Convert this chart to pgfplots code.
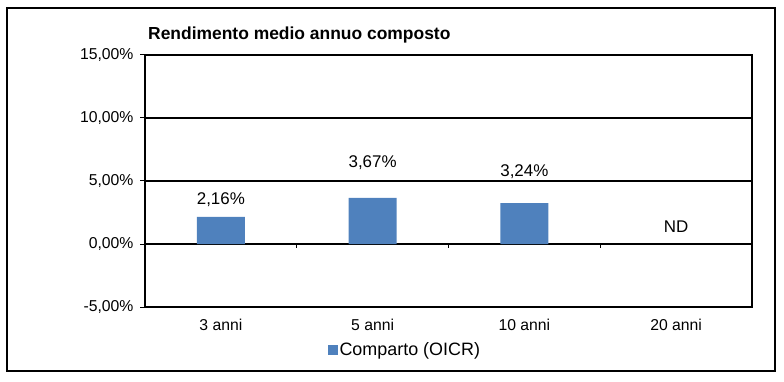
\documentclass[border=0pt]{standalone}
\usepackage{pgfplots}
\pgfplotsset{compat=1.18}
\usepackage{fontspec}
\setmainfont{Liberation Sans}
\definecolor{barblue}{HTML}{4F81BD}
\begin{document}
\begin{tikzpicture}[x=1bp,y=1bp]
\useasboundingbox (0,0) rectangle (784,381);
\draw[line width=1.3bp] (7,10) rectangle (775,373);
\begin{axis}[at={(145bp,74bp)}, anchor=south west, scale only axis,
  width=607bp, height=252bp,
  xmin=-0.5, xmax=3.5, ymin=-5, ymax=15,
  ytick={-5,0,5,10,15},
  yticklabels={{-5,00\%},{0,00\%},{5,00\%},{10,00\%},{15,00\%}},
  xtick={0,1,2,3},
  xticklabels={3 anni,5 anni,10 anni,20 anni},
  x tick label style={yshift=-4bp},
  y tick label style={xshift=-3bp},
  ytick pos=left, tick align=outside,
  major tick length=5bp,
  major x tick style={draw=none},
  major y tick style={black, line width=1bp},
  axis line style={black, line width=1.3bp},
  ymajorgrids, grid style={black, line width=1.3bp},
  tick label style={font=\fontsize{15.8}{17}\selectfont},
  ybar, bar width=48bp,
  legend style={at={(axis description cs:0.428,-0.171)}, anchor=center, draw=none,
    font=\fontsize{18}{20}\selectfont, inner sep=0bp,
    nodes={inner xsep=2bp}},
  legend image code/.code={\fill[barblue] (0bp,-5bp) rectangle (10bp,5bp);},
  clip=false,
]
\addplot[fill=barblue, draw=none] coordinates {(0,2.16) (1,3.67) (2,3.24)};
\addlegendentry{Comparto (OICR)}
\draw[line width=1bp] (axis cs:0.5,0) -- ([yshift=-4bp]axis cs:0.5,0);
\draw[line width=1bp] (axis cs:1.5,0) -- ([yshift=-4bp]axis cs:1.5,0);
\draw[line width=1bp] (axis cs:2.5,0) -- ([yshift=-4bp]axis cs:2.5,0);
\node[font=\fontsize{17}{19}\selectfont] at (axis cs:0,3.49) {2,16\%};
\node[font=\fontsize{17}{19}\selectfont] at (axis cs:1,6.43) {3,67\%};
\node[font=\fontsize{17}{19}\selectfont] at (axis cs:2,5.71) {3,24\%};
\node[font=\fontsize{17}{19}\selectfont] at (axis cs:3,1.35) {ND};
\end{axis}
\node[anchor=base west, font=\fontsize{17.5}{19}\selectfont\bfseries, inner sep=0pt] at (148,342) {Rendimento medio annuo composto};
\end{tikzpicture}
\end{document}
